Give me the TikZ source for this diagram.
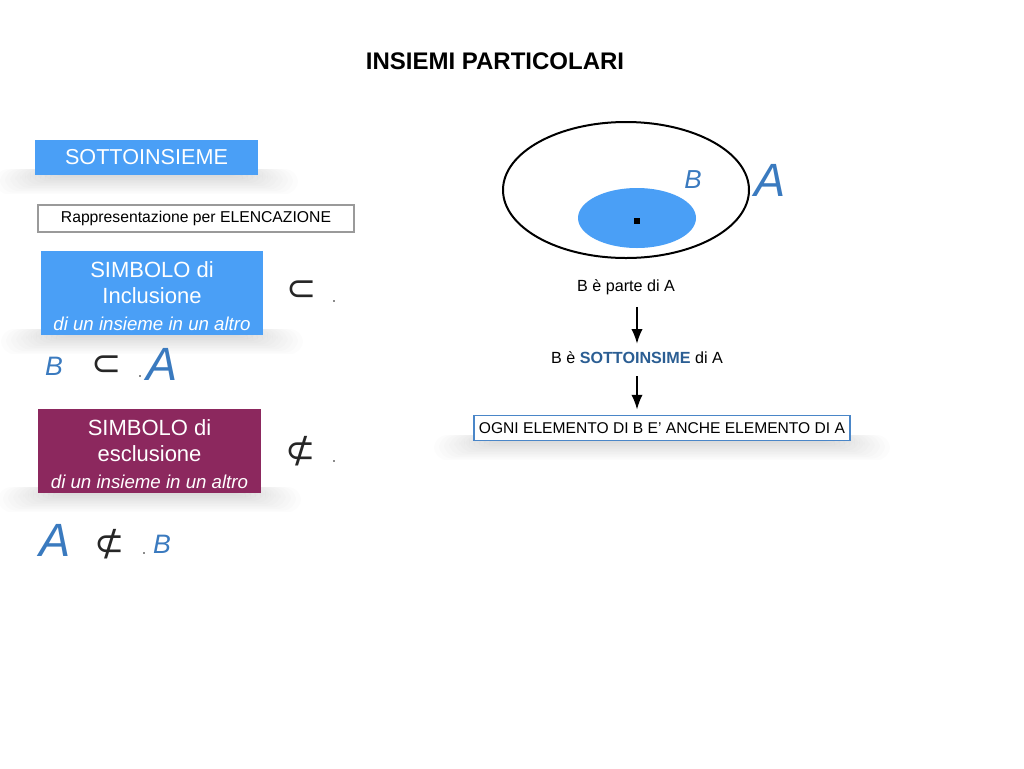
\documentclass[tikz,border=0pt]{standalone}
\usepackage{fontspec}
\setmainfont{Liberation Sans}
\newfontfamily\symfont{DejaVu Sans}
\usetikzlibrary{arrows.meta,shapes.geometric}
\definecolor{boxblue}{HTML}{4A9FF6}
\definecolor{boxmaroon}{HTML}{8C285E}
\definecolor{letblue}{HTML}{3A7ABF}
\definecolor{darkblue}{HTML}{2B5E93}
\definecolor{framegray}{HTML}{9A9A9A}
\definecolor{frameblue}{HTML}{4A86C8}
\tikzset{
  fillbox/.style={fill=#1, text=white, inner sep=0pt, align=center},
  plainbox/.style={draw=#1, line width=1.2pt, fill=white, inner sep=0pt},
  bigletter/.style={text=letblue, font=\fontsize{35}{35}\selectfont\itshape, inner sep=0pt},
  smallletter/.style={text=letblue, font=\fontsize{20}{20}\selectfont\itshape, inner sep=0pt},
  symb/.style={font=\symfont\fontsize{27}{27}\selectfont, inner sep=0pt, text=black!85},
  lbl/.style={font=\fontsize{12.1}{14}\selectfont, inner sep=2pt},
  arr/.style={-{Latex[length=11pt,width=8.5pt]}, line width=1.2pt},
  tinydot/.style={fill=black!45, inner sep=0pt, minimum size=1.5pt, rectangle}
}
\newcommand\softshade[3]{% x1, x2, ybottom
  \foreach \k in {1,...,12}{
    \fill[black,opacity=0.012,rounded corners=10] (#1+20-\k*5,#3-6) rectangle (#2-20+\k*5,#3+\k*1.6);
  }}
\begin{document}
\begin{tikzpicture}[x=0.75pt,y=-0.75pt]
\useasboundingbox[fill=white] (0,0) rectangle (1024,768);

% title
\node[font=\fontsize{18}{20}\selectfont\bfseries, inner sep=0pt] (title) at (495,61) {INSIEMI PARTICOLARI};

% SOTTOINSIEME
\softshade{35}{258}{175}
\node[fillbox=boxblue, minimum width=223*0.75pt, minimum height=35*0.75pt,
      font=\fontsize{16.2}{18}\selectfont] (sotto) at (146.5,157.5) {SOTTOINSIEME};

% Rappresentazione
\node[plainbox=framegray, minimum width=316*0.75pt, minimum height=27*0.75pt,
      font=\fontsize{11.8}{13}\selectfont] (rapp) at (196,218.5) {Rappresentazione per ELENCAZIONE};

% SIMBOLO di Inclusione
\softshade{41}{263}{335}
\node[fillbox=boxblue, minimum width=222*0.75pt, minimum height=84*0.75pt,
      font=\fontsize{16.5}{20}\selectfont] (incl) at (152,293) {};
\node[text=white, align=center, inner sep=0pt, font=\fontsize{16.5}{20}\selectfont] (incltext) at (152,296)
  {SIMBOLO di\\ Inclusione\\ {\fontsize{14}{16}\selectfont\itshape di un insieme in un altro}};
\node[symb] (inclsym) at (302,291) {⊂};
\node[tinydot] (incldot) at (334,301) {};

% B subset A
\node[smallletter] (rowB) at (54,366) {B};
\node[symb] (rowsub) at (107,366) {⊂};
\node[tinydot] (rowdot) at (140,376) {};
\node[bigletter] (rowA) at (162,364) {A};

% SIMBOLO di esclusione
\softshade{38}{261}{493}
\node[fillbox=boxmaroon, minimum width=223*0.75pt, minimum height=84*0.75pt] (escl) at (149.5,451) {};
\node[text=white, align=center, inner sep=0pt, font=\fontsize{16.5}{20}\selectfont] (escltext) at (149.5,454)
  {SIMBOLO di\\ esclusione\\ {\fontsize{14}{16}\selectfont\itshape di un insieme in un altro}};
\node[symb] (esclsym) at (301,451) {⊄};
\node[tinydot] (escldot) at (334,461) {};

% A not subset B
\node[bigletter] (row2A) at (55,540) {A};
\node[symb] (row2sub) at (110,544) {⊄};
\node[tinydot] (row2dot) at (144,553) {};
\node[smallletter] (row2B) at (162,544) {B};

% Venn diagram
\node[draw=black, line width=1.5pt, ellipse, minimum width=246*0.75pt, minimum height=136*0.75pt, inner sep=0pt] (setA) at (626,190) {};
\node[fill=boxblue, ellipse, minimum width=118*0.75pt, minimum height=60*0.75pt, inner sep=0pt] (setB) at (637,218) {};
\node[fill=black, minimum size=4.5pt, inner sep=0pt] (elem) at (637,221) {};
\node[text=letblue, font=\fontsize{19.5}{20}\selectfont\itshape, inner sep=0pt] (labB) at (693,180) {B};
\node[bigletter] (labA) at (770,180) {A};

% chain
\node[lbl] (parte) at (626,287) {B è parte di A};
\node[lbl] (sotto2) at (637,358) {B è \textcolor{darkblue}{\bfseries SOTTOINSIME} di A};
\softshade{474}{850}{441}
\node[plainbox=frameblue, line width=1pt, minimum width=376*0.75pt, minimum height=25*0.75pt,
      font=\fontsize{11.7}{13}\selectfont] (ogni) at (662,428) {OGNI ELEMENTO DI B E’ ANCHE ELEMENTO DI A};

\draw[arr, shorten <=7pt, shorten >=4pt] (parte.south -| elem) -- (sotto2.north -| elem);
\draw[arr, shorten <=7pt, shorten >=4pt] (sotto2.south -| elem) -- (ogni.north -| elem);
\end{tikzpicture}
\end{document}
